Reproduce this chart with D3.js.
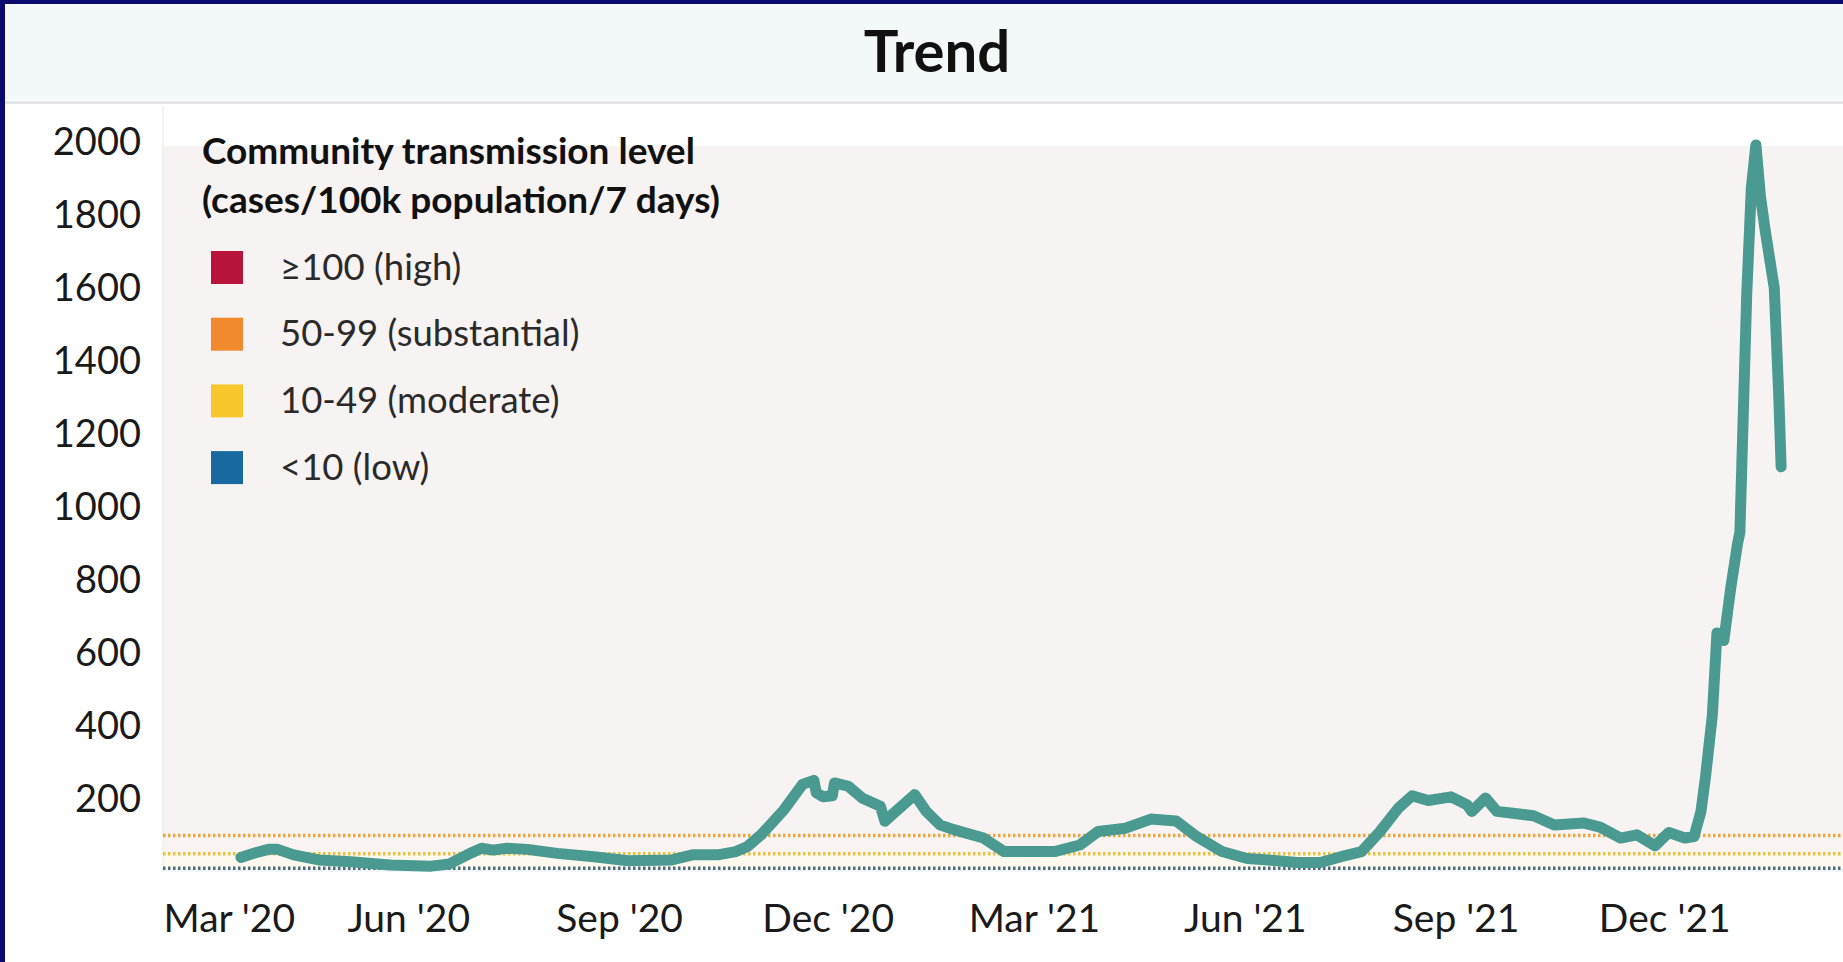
<!DOCTYPE html>
<html>
<head>
<meta charset="utf-8">
<script src="https://cdn.jsdelivr.net/npm/d3@7"></script>
<style>
  body { margin: 0; background: #fff; }
  svg { display: block; font-family: Lato, "Open Sans", sans-serif; }
</style>
</head>
<body>
<svg id="chart" width="1843" height="962"></svg>
<script>
// Data (7-day case rate per 100k)
const dates = [
    '2020-03-20','2020-03-26','2020-04-01','2020-04-05','2020-04-12','2020-04-23','2020-05-07','2020-05-24',
    '2020-06-11','2020-06-19','2020-06-28','2020-07-03','2020-07-08','2020-07-14','2020-07-23','2020-08-05',
    '2020-08-21','2020-09-05','2020-09-24','2020-10-03','2020-10-14','2020-10-22','2020-10-27','2020-11-02',
    '2020-11-12','2020-11-20','2020-11-25','2020-11-26','2020-11-29','2020-12-03','2020-12-04','2020-12-10',
    '2020-12-16','2020-12-24','2020-12-26','2020-12-30','2021-01-08','2021-01-13','2021-01-19','2021-01-25',
    '2021-02-07','2021-02-16','2021-02-22','2021-03-10','2021-03-21','2021-03-29','2021-04-10','2021-04-21',
    '2021-05-02','2021-05-11','2021-05-22','2021-06-02','2021-06-15','2021-06-24','2021-07-04','2021-07-13',
    '2021-07-22','2021-07-30','2021-08-07','2021-08-13','2021-08-20','2021-08-30','2021-09-06','2021-09-08',
    '2021-09-11','2021-09-14','2021-09-19','2021-09-26','2021-10-05','2021-10-14','2021-10-27','2021-11-03',
    '2021-11-12','2021-11-19','2021-11-27','2021-12-03','2021-12-10','2021-12-14','2021-12-17','2021-12-19',
    '2021-12-22','2021-12-24','2021-12-27','2021-12-30','2022-01-02','2022-01-03','2022-01-06','2022-01-08',
    '2022-01-10','2022-01-12','2022-01-14','2022-01-16','2022-01-18','2022-01-19','2022-01-20','2022-01-21'
];
const rates = [
    40, 52, 62, 62, 47, 33, 28, 19,
    16, 22, 51, 65, 60, 65, 62, 51,
    42, 31, 33, 47, 47, 56, 70, 102,
    171, 240, 251, 217, 206, 209, 244, 235,
    203, 180, 139, 162, 212, 166, 129, 116,
    93, 56, 56, 56, 74, 111, 120, 145,
    140, 97, 56, 37, 31, 26, 26, 42,
    56, 111, 175, 209, 196, 206, 184, 166,
    184, 203, 166, 161, 154, 129, 134, 123,
    93, 102, 72, 108, 93, 97, 165, 260,
    430, 655, 634, 777, 900, 930, 1584, 1874,
    1992, 1850, 1760, 1680, 1600, 1450, 1300, 1110
];

const yTicks = [200, 400, 600, 800, 1000, 1200, 1400, 1600, 1800, 2000];
const xTicks = ['2020-03-01','2020-06-01','2020-09-01','2020-12-01','2021-03-01','2021-06-01','2021-09-01','2021-12-01'];

// Transmission levels
const levelNames = ['≥100 (high)', '50-99 (substantial)', '10-49 (moderate)', '<10 (low)'];
const levelBounds = [[100, 2000], [50, 100], [10, 50], [0, 10]];
const levelColors = ['#b8133b', '#f18a2f', '#f8c72c', '#17699f'];
const bandFills = ['#f8f3f3', '#f9f4f1', '#fdf9ef', '#f3f6f8'];
const lineColors = ['#eaa63c', '#ebc03f', '#4f6b78'];

const parse = d3.timeParse('%Y-%m-%d');
const series = dates.map((d, i) => ({ date: parse(d), value: rates[i] }));

const W = 1843, H = 962;
const plot = { left: 163, right: 1843, top: 106, bottom: 872 };

const svg = d3.select('#chart');

// Title band and frame
svg.append('rect').attr('width', W).attr('height', H).attr('fill', '#fff');
svg.append('rect').attr('width', W).attr('height', 100).attr('fill', '#f3f8f8');
svg.append('rect').attr('y', 101).attr('width', W).attr('height', 3).attr('fill', '#e4e6e6');
svg.append('text')
    .attr('x', 937).attr('y', 72)
    .attr('text-anchor', 'middle')
    .attr('font-size', 58).attr('font-weight', 700)
    .attr('fill', '#111')
    .text('Trend');

// Scales
const x = d3.scaleTime()
    .domain([parse('2020-02-15'), parse('2022-02-17')])
    .range([plot.left, plot.right]);
const y = d3.scaleLinear()
    .domain([0, 2000])
    .range([plot.bottom, 142]);

// Background bands
svg.append('g')
    .selectAll('rect')
    .data(levelBounds)
    .join('rect')
    .attr('x', plot.left)
    .attr('width', plot.right - plot.left)
    .attr('y', d => Math.max(y(d[1]), 146))
    .attr('height', d => y(d[0]) - Math.max(y(d[1]), 146))
    .attr('fill', (d, i) => bandFills[i]);

svg.append('line')
    .attr('x1', plot.left).attr('x2', plot.left)
    .attr('y1', plot.top).attr('y2', plot.bottom)
    .attr('stroke', '#eeeeee').attr('stroke-width', 1.5);

// Threshold lines (dotted)
svg.append('g')
    .selectAll('line')
    .data([100, 50, 10])
    .join('line')
    .attr('x1', plot.left).attr('x2', plot.right)
    .attr('y1', d => y(d)).attr('y2', d => y(d))
    .attr('stroke', (d, i) => lineColors[i])
    .attr('stroke-width', 3.5)
    .attr('stroke-dasharray', '2.5,2.5');

// Axes
const yAxis = svg.append('g')
    .attr('transform', `translate(${plot.left},0)`)
    .call(d3.axisLeft(y).tickValues(yTicks).tickSize(0).tickPadding(22).tickFormat(d3.format('d')));
yAxis.select('.domain').remove();
yAxis.selectAll('text')
    .attr('font-family', 'Lato, sans-serif')
    .attr('font-size', 38)
    .attr('fill', '#1a1a1a');

const xAxis = svg.append('g')
    .attr('transform', `translate(0,${plot.bottom})`)
    .call(d3.axisBottom(x).tickValues(xTicks.map(parse)).tickSize(0).tickPadding(60).tickFormat(d3.timeFormat("%b '%y")));
xAxis.select('.domain').remove();
xAxis.selectAll('text')
    .attr('font-family', 'Lato, sans-serif')
    .attr('font-size', 39)
    .attr('dy', '0em')
    .attr('fill', '#1a1a1a');

// keep first label inside the plot area
xAxis.selectAll('.tick').each(function(d) {
    const t = d3.select(this).select('text');
    const w = t.node().getComputedTextLength();
    const left = x(d) - w / 2;
    if (left < plot.left) t.attr('x', plot.left - left);
});

// Line
const line = d3.line()
    .x(d => x(d.date))
    .y(d => y(d.value));

svg.append('path')
    .datum(series)
    .attr('d', line)
    .attr('fill', 'none')
    .attr('stroke', '#4a9a91')
    .attr('stroke-width', 11)
    .attr('stroke-linejoin', 'round')
    .attr('stroke-linecap', 'round');

// Legend
const legend = svg.append('g');
legend.append('text')
    .attr('x', 202).attr('y', 164)
    .attr('font-size', 37).attr('font-weight', 700).attr('fill', '#111')
    .text('Community transmission level');
legend.append('text')
    .attr('x', 202).attr('y', 213)
    .attr('font-size', 37).attr('font-weight', 700).attr('fill', '#111')
    .text('(cases/100k population/7 days)');

const item = legend.selectAll('g.item')
    .data(levelNames)
    .join('g')
    .attr('class', 'item')
    .attr('transform', (d, i) => `translate(211,${267 + i * 66.7})`);
item.append('rect')
    .attr('x', 0).attr('y', -16)
    .attr('width', 32).attr('height', 33)
    .attr('fill', (d, i) => levelColors[i]);
item.append('text')
    .attr('x', 69).attr('y', 0)
    .attr('dy', '0.35em')
    .attr('font-size', 36.5).attr('fill', '#2a2a2a')
    .text(d => d);

// Frame border (left and top)
svg.append('rect').attr('x', 0).attr('y', 0).attr('width', 5).attr('height', H).attr('fill', '#0b0b6f');
svg.append('rect').attr('x', 0).attr('y', 0).attr('width', W).attr('height', 4).attr('fill', '#0b0b6f');
</script>
</body>
</html>
